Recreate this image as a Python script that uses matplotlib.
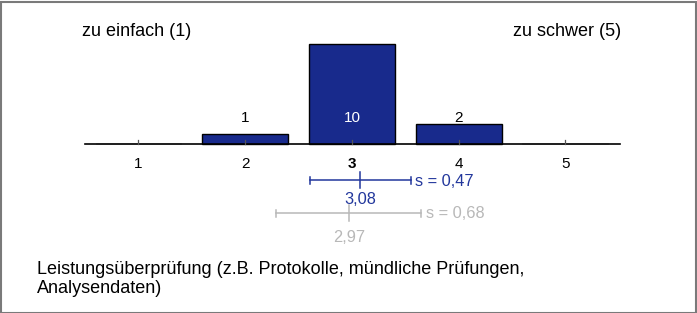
import matplotlib
matplotlib.use("Agg")
import matplotlib.pyplot as plt
from matplotlib.patches import Rectangle

# ---- data ----
categories = [1, 2, 3, 4, 5]
counts = [0, 1, 10, 2, 0]
tick_labels = ["1", "2", "3", "4", "5"]
mean_current = 3.08
sd_current = 0.47
mean_ref = 2.97
sd_ref = 0.68
label_left = "zu einfach (1)"
label_right = "zu schwer (5)"
title_text = "Leistungsüberprüfung (z.B. Protokolle, mündliche Prüfungen,\nAnalysendaten)"

plt.rcParams['font.family'] = ['Liberation Sans', 'DejaVu Sans']

W, H = 697, 313
fig = plt.figure(figsize=(W / 100, H / 100), dpi=100)
ax = fig.add_axes([0, 0, 1, 1])
px_per_unit_x = 106.7
px_per_unit_y = 10.0
x0_px, y0_px = 138.5, 144.0
ax.set_xlim(1 - x0_px / px_per_unit_x, 1 + (W - x0_px) / px_per_unit_x)
ax.set_ylim(-(H - y0_px) / px_per_unit_y, y0_px / px_per_unit_y)
ax.axis('off')

def px(xp):
    return 1 + (xp - x0_px) / px_per_unit_x

def py(yp):
    return (y0_px - yp) / px_per_unit_y

blue = '#182a8c'
mean_blue = '#22379c'
grey = '#b8b8b8'
fs_num = 11.0
fs_txt = 13.0

# bars
for c, n in zip(categories, counts):
    if n > 0:
        ax.bar(c, n, width=0.805, color=blue, edgecolor='black', linewidth=1.0, zorder=2)
    else:
        ax.bar(c, 0.15, width=0.805, color='#c8c8c8', edgecolor='#c8c8c8', linewidth=0.6, zorder=2)

# baseline
ax.plot([px(85), px(620)], [0, 0], color='black', lw=1.2, zorder=3)
# ticks
for c in categories:
    ax.plot([c, c], [0, 0.45], color='#555555', lw=0.9, zorder=4)

# count labels
label_y = py(118)
for c, n in zip(categories, counts):
    if n > 0:
        col = 'white' if n >= 5 else 'black'
        ax.text(c, label_y, str(n), ha='center', va='center', fontsize=fs_num, color=col, zorder=5)

# tick labels
mode = categories[counts.index(max(counts))]
for c, t in zip(categories, tick_labels):
    ax.text(c, py(164), t, ha='center', va='center', fontsize=fs_num,
            fontweight='bold' if c == mode else 'normal')

# mean / sd markers
def mean_marker(m, s, yp, color, text_y):
    y = py(yp)
    ax.plot([m - s, m + s], [y, y], color=color, lw=1.1)
    for xe in (m - s, m + s):
        ax.plot([xe, xe], [y - 0.35, y + 0.35], color=color, lw=1.1)
    ax.plot([m, m], [y - 0.8, y + 0.8], color=color, lw=1.1)
    ax.text(m + s + 0.04, y - 0.1, "s = " + f"{s:.2f}".replace('.', ','), ha='left', va='center',
            fontsize=fs_num + 0.8, color=color)
    ax.text(m, py(text_y), f"{m:.2f}".replace('.', ','), ha='center', va='center',
            fontsize=fs_num + 0.8, color=color)

mean_marker(mean_current, sd_current, 180, mean_blue, 199)
mean_marker(mean_ref, sd_ref, 213, grey, 238)

# side labels
ax.text(px(82), py(32), label_left, ha='left', va='center', fontsize=fs_txt)
ax.text(px(621), py(32), label_right, ha='right', va='center', fontsize=fs_txt)

# title
ax.text(px(37), py(279), title_text, ha='left', va='center', fontsize=fs_txt, linespacing=1.2)

# border
fig.patches.append(Rectangle((0.5 / W, 0.5 / H), 1 - 2 / W, 1 - 2 / H, transform=fig.transFigure,
                             fill=False, edgecolor='#7a7a7a', lw=1.5))

fig.savefig('out.png', dpi=100)
